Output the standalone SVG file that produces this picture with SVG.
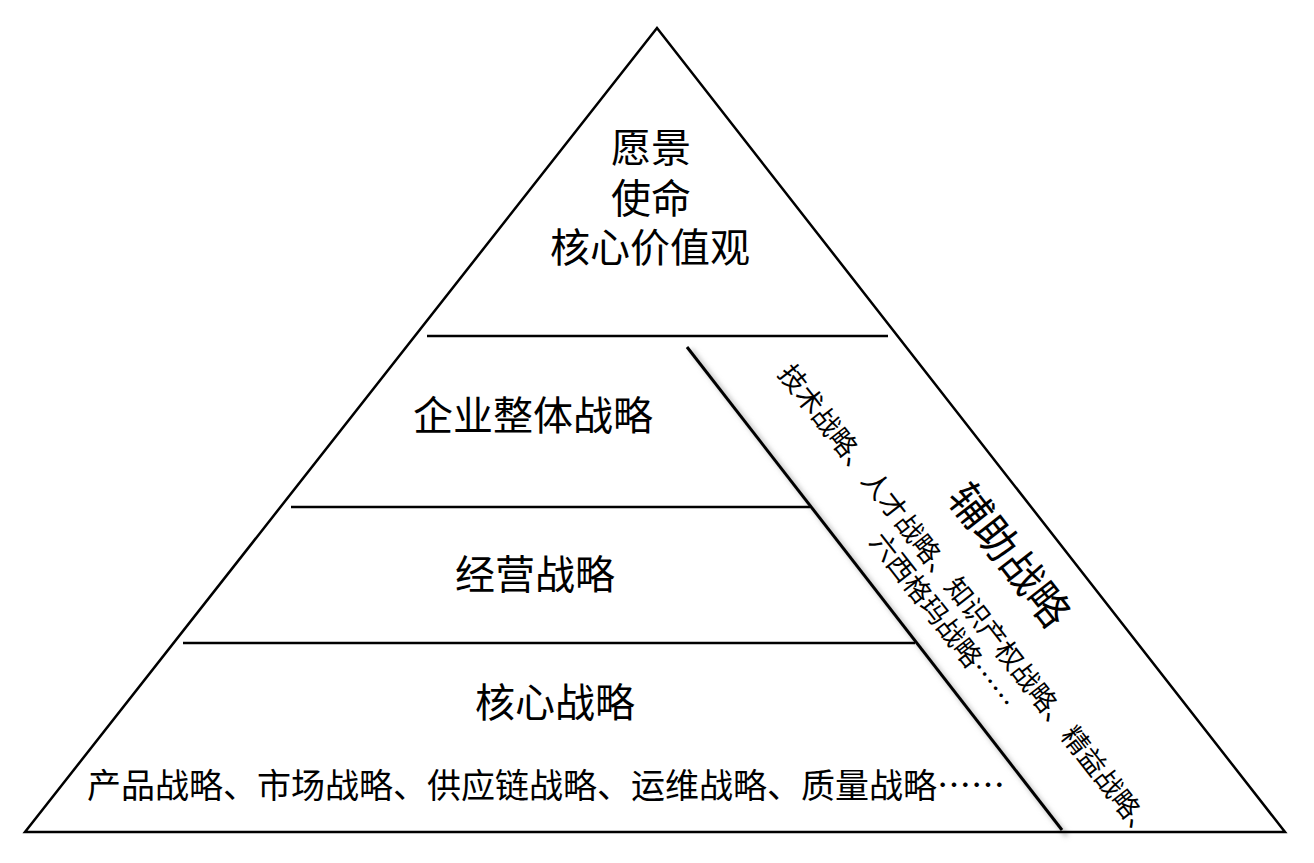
<svg xmlns="http://www.w3.org/2000/svg" width="1314" height="863" viewBox="0 0 1314 863">
<defs>
<filter id="blur" x="-10%" y="-10%" width="120%" height="120%"><feGaussianBlur stdDeviation="2.5"/></filter>
</defs>
<style>
.ln{stroke:#000;stroke-width:2.5;fill:none}
.sh{stroke:#bbb;stroke-width:4;fill:none;filter:url(#blur)}
.t{font-family:"Noto Sans CJK SC","Microsoft YaHei",sans-serif;fill:#000;text-anchor:middle;dominant-baseline:central}
.big{font-size:40px}
.mid{font-size:34px}
.sm{font-size:27px}
.aux{font-size:42px}
</style>
<rect width="1314" height="863" fill="#fff"/>
<g id="connectors">
<line class="sh" x1="691" y1="350" x2="1067" y2="836"/>
<line class="sh" x1="1062" y1="836" x2="1062" y2="848"/>
<polygon class="ln" points="657,28 25,832 1285,832"/>
<line class="ln" x1="427" y1="336" x2="888" y2="336"/>
<line class="ln" x1="291" y1="507" x2="810" y2="507"/>
<line class="ln" x1="183" y1="643" x2="915" y2="643"/>
<line class="ln" x1="687" y1="347" x2="1062" y2="830" style="stroke-width:3"/>
</g>
<g id="vision">
<text class="t big" x="651" y="145">愿景<tspan x="651" dy="51">使命</tspan><tspan x="650" dy="49">核心价值观</tspan></text>
</g>
<g id="overall">
<text class="t big" x="533" y="413">企业整体战略</text>
</g>
<g id="operation">
<text class="t big" x="535" y="572">经营战略</text>
</g>
<g id="core">
<text class="t big" x="555" y="700">核心战略</text>
<text class="t mid" x="546" y="783">产品战略、市场战略、供应链战略、运维战略、质量战略……</text>
</g>
<g id="auxiliary">
<text class="t aux" transform="translate(1012,553) rotate(52)">辅助战略</text>
<text class="t sm" transform="translate(969,601) rotate(52)">技术战略、人才战略、知识产权战略、精益战略、</text>
<text class="t sm" transform="translate(944,620) rotate(52)">六西格玛战略……</text>
</g>
</svg>
